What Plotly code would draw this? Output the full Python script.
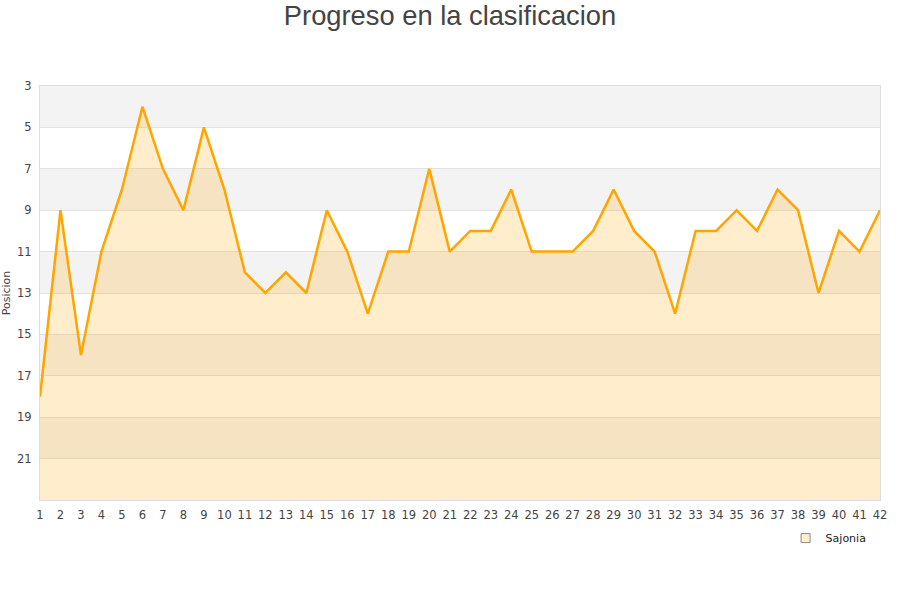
import plotly.graph_objects as go

# progreso en la clasificacion - Sajonia, jornadas 1-42
jornadas = list(range(1, 43))
posicion = [18, 9, 16, 11, 8, 4, 7, 9, 5, 8,
            12, 13, 12, 13, 9, 11, 14, 11, 11, 7,
            11, 10, 10, 8, 11, 11, 11, 10, 8, 10,
            11, 14, 10, 10, 9, 10, 8, 9, 13, 10,
            11, 9]
y_ticks = list(range(3, 23, 2))
fondo = 23  # la parte de abajo del eje

fig = go.Figure()

# base invisible para rellenar hasta abajo
fig.add_trace(go.Scatter(x=jornadas, y=[fondo] * len(jornadas), mode="lines",
                         line=dict(width=0), showlegend=False, hoverinfo="skip"))

fig.add_trace(go.Scatter(x=jornadas, y=posicion, mode="lines", name="Sajonia",
                         line=dict(color="#FFA500", width=2.5),
                         fill="tonexty", fillcolor="rgba(255,165,0,0.2)",
                         showlegend=False))

# entrada de leyenda (cuadrado)
fig.add_trace(go.Scatter(x=[None], y=[None], mode="markers", name="Sajonia",
                         marker=dict(symbol="square", size=9, color="#FFEDCC",
                                     line=dict(color="#888", width=1))))

# bandas grises
for t in y_ticks[::2]:
    fig.add_shape(type="rect", xref="paper", yref="y", x0=0, x1=1, y0=t, y1=t + 2,
                  fillcolor="#F3F3F3", line=dict(width=0), layer="below")

fig.update_layout(
    width=900, height=600,
    title=dict(text="Progreso en la clasificacion", x=0.5, xanchor="center",
               y=0.975, yanchor="middle",
               font=dict(family="Liberation Sans, Arial", size=27.3, color="#444")),
    font=dict(family="DejaVu Sans", size=11, color="#444"),
    plot_bgcolor="white", paper_bgcolor="white",
    margin=dict(l=40, r=20, t=86, b=100, autoexpand=False),
    legend=dict(x=0.99, xanchor="right", y=-0.092, yanchor="middle",
                font=dict(size=11, color="#222"), bgcolor="rgba(0,0,0,0)"),
)

fig.update_xaxes(range=[1, 42], tickmode="array", tickvals=jornadas,
                 showgrid=False, showline=True, linecolor="#DDD", mirror=True,
                 ticks="", zeroline=False, tickfont=dict(size=11.5), automargin=False,
                 ticklabelstandoff=4)
fig.update_yaxes(range=[fondo, 3], tickmode="array", tickvals=y_ticks,
                 showgrid=True, gridcolor="#E2E2E2", showline=True, linecolor="#DDD",
                 mirror=True, zeroline=False, ticks="", tickfont=dict(size=11.5),
                 automargin=False, ticklabelstandoff=5,
                 title=dict(text="Posicion", font=dict(size=11), standoff=4))

# sin margen del body para que el grafico quede en 0,0
fig.write_html("out.html", config={"displayModeBar": False},
               post_script="document.body.style.margin='0';")
